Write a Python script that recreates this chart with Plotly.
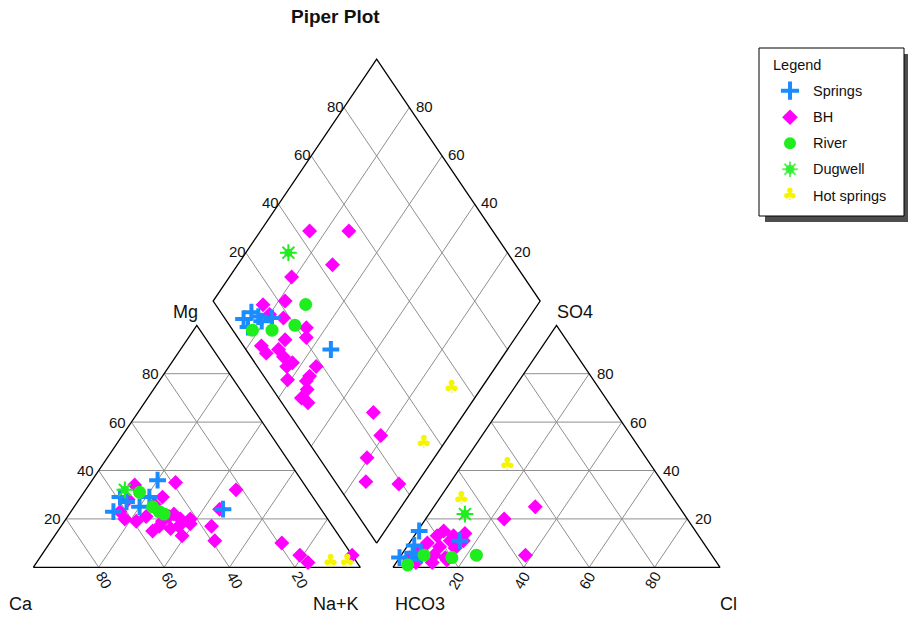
import plotly.graph_objects as go

# ------------------------------------------------------------------ data (%)
# Cation triangle: Mg and Na+K (Ca = 100 - Mg - Na+K)
springs_cat_mg = [36, 23, 29, 25, 29, 24, 27]
springs_cat_nak = [20, 13, 12, 20, 21, 46, 15]
bh_cat_mg = [34, 35, 32, 28, 29, 26, 20, 19, 15, 19, 22, 20, 20, 17, 16, 13, 24, 17, 11, 21,
             10, 5, 2, 5, 21, 23, 17, 18]
bh_cat_nak = [14, 26, 46, 15, 25, 24, 18, 22, 29, 30, 32, 35, 38, 36, 34, 39, 45, 46, 50, 24,
              71, 79, 83, 95, 31, 15, 30, 39]
river_cat_mg = [31, 25, 22, 23]
river_cat_nak = [17, 24, 29, 27]
dugwell_cat_mg = [32]
dugwell_cat_nak = [12]
hot_cat_mg = [2, 2]
hot_cat_nak = [90, 95]

# Anion triangle: SO4 and Cl (HCO3 = 100 - SO4 - Cl)
springs_an_so4 = [15, 11, 4, 9, 5, 6, 3]
springs_an_cl = [0.5, 15, 0, 2, 6, 3, 4]
bh_an_so4 = [25, 20, 5, 15, 14, 10, 8.5, 11, 5, 4, 2, 4, 8, 7, 13, 11, 3, 2, 13]
bh_an_cl = [31, 24, 38, 8, 15, 5.5, 10, 12, 10, 3, 11, 14, 15, 5, 7, 16, 15, 6, 12]
river_an_so4 = [5, 4, 5, 1]
river_an_cl = [23, 16, 7, 4]
dugwell_an_so4 = [22]
dugwell_an_cl = [11]
hot_an_so4 = [42, 28]
hot_an_cl = [14, 7]

# Diamond: Ca+Mg and SO4+Cl
springs_dia_camg = [87, 86, 83, 84, 81, 78.5, 54]
springs_dia_so4cl = [5.6, 9.4, 10.6, 5.3, 10.7, 14.5, 26]
bh_dia_camg = [85, 73, 71, 81, 78, 84, 66, 75, 70, 64, 76, 73, 70, 67, 63, 64, 55, 55, 61, 55,
               53, 53, 50, 28, 21, 20.6, 16, 5.4, 80]
bh_dia_so4cl = [44, 56, 44, 29, 22, 14.5, 23, 18, 14, 21, 5.5, 5.5, 10, 10, 11.5, 9, 18, 14, 6.5, 12,
                10.5, 7, 8, 26, 23.5, 14.7, 9.4, 19, 14.5]
river_dia_camg = [71, 70, 76, 82]
river_dia_so4cl = [27.6, 20, 12, 6]
dugwell_dia_camg = [87]
dugwell_dia_so4cl = [33]
hot_dia_camg = [9, 6]
hot_dia_so4cl = [55, 35]

tick_values = [20, 40, 60, 80]
group_names = ["Springs", "BH", "River", "Dugwell", "Hot springs"]

# ------------------------------------------------------------------ geometry
GAP = 0.1  # gap between the two triangles (fraction of side)


def cation_xy(mg, nak):
    return [(n + 0.5 * m) / 100 for m, n in zip(mg, nak)], [m / 100 for m in mg]


def anion_xy(so4, cl):
    return [1 + GAP + (c + 0.5 * s) / 100 for s, c in zip(so4, cl)], [s / 100 for s in so4]


def diamond_xy(camg, so4cl):
    return ([1 + GAP / 2 + 0.5 * (v - u) / 100 for u, v in zip(camg, so4cl)],
            [GAP + (u + v) / 100 for u, v in zip(camg, so4cl)])


def all_xy(cat, an, dia):
    x1, y1 = cation_xy(*cat)
    x2, y2 = anion_xy(*an)
    x3, y3 = diamond_xy(*dia)
    return x1 + x2 + x3, y1 + y2 + y3


FONT = "Liberation Sans, Arial, sans-serif"
BLUE = "#1a8cff"
MAGENTA = "#ff00ff"
GREEN = "#1eee1e"
YELLOW = "#f5f500"
GRID = "#8f8f8f"

fig = go.Figure()


def seg_trace(segs, color, width):
    xs, ys = [], []
    for pts in segs:
        for p in pts:
            xs.append(p[0])
            ys.append(p[1])
        xs.append(None)
        ys.append(None)
    return go.Scatter(x=xs, y=ys, mode="lines", line=dict(color=color, width=width),
                      hoverinfo="skip", showlegend=False)


# grid lines
grid = []
R0 = 1 + GAP
for t in [v / 100 for v in tick_values]:
    # cation triangle
    grid.append([(0.5 * t, t), (1 - 0.5 * t, t)])
    grid.append([(t, 0), (t + 0.5 * (1 - t), 1 - t)])
    grid.append([(1 - t, 0), (0.5 * (1 - t), 1 - t)])
    # anion triangle
    grid.append([(R0 + 0.5 * t, t), (R0 + 1 - 0.5 * t, t)])
    grid.append([(R0 + t, 0), (R0 + t + 0.5 * (1 - t), 1 - t)])
    grid.append([(R0 + 1 - t, 0), (R0 + 0.5 * (1 - t), 1 - t)])
    # diamond
    xa, ya = diamond_xy([t * 100, t * 100], [0, 100])
    grid.append(list(zip(xa, ya)))
    xb, yb = diamond_xy([0, 100], [t * 100, t * 100])
    grid.append(list(zip(xb, yb)))
fig.add_trace(seg_trace(grid, GRID, 1))

dx, dy = diamond_xy([0, 100, 100, 0, 0], [0, 0, 100, 100, 0])
outline = [
    [(0, 0), (1, 0), (0.5, 1), (0, 0)],
    [(R0, 0), (R0 + 1, 0), (R0 + 0.5, 1), (R0, 0)],
    list(zip(dx, dy)),
]
fig.add_trace(seg_trace(outline, "#000000", 1.3))

# ------------------------------------------------------------------ samples
bx, by = all_xy((bh_cat_mg, bh_cat_nak), (bh_an_so4, bh_an_cl), (bh_dia_camg, bh_dia_so4cl))
fig.add_trace(go.Scatter(x=bx, y=by, mode="markers", name="BH", showlegend=False,
                         marker=dict(symbol="diamond", size=11.5, color=MAGENTA, line=dict(width=0))))

sx, sy = all_xy((springs_cat_mg, springs_cat_nak), (springs_an_so4, springs_an_cl),
                (springs_dia_camg, springs_dia_so4cl))
fig.add_trace(go.Scatter(x=sx, y=sy, mode="markers", name="Springs", showlegend=False,
                         marker=dict(symbol="cross-thin", size=12, color=BLUE,
                                     line=dict(color=BLUE, width=4))))

rx, ry = all_xy((river_cat_mg, river_cat_nak), (river_an_so4, river_an_cl),
                (river_dia_camg, river_dia_so4cl))
fig.add_trace(go.Scatter(x=rx, y=ry, mode="markers", name="River", showlegend=False,
                         marker=dict(symbol="circle", size=13, color=GREEN, line=dict(width=0))))

ux, uy = all_xy((dugwell_cat_mg, dugwell_cat_nak), (dugwell_an_so4, dugwell_an_cl),
                (dugwell_dia_camg, dugwell_dia_so4cl))
fig.add_trace(go.Scatter(x=ux, y=uy, mode="markers", name="Dugwell", showlegend=False,
                         marker=dict(symbol="circle", size=8, color=GREEN, line=dict(width=0))))
fig.add_trace(go.Scatter(x=ux, y=uy, mode="markers", name="Dugwell", showlegend=False,
                         marker=dict(symbol="asterisk-open", size=14, color=GREEN,
                                     line=dict(color=GREEN, width=2))))

hx, hy = all_xy((hot_cat_mg, hot_cat_nak), (hot_an_so4, hot_an_cl), (hot_dia_camg, hot_dia_so4cl))
fig.add_trace(go.Scatter(x=hx, y=hy, mode="text", name="Hot springs", showlegend=False,
                         text=["\u2663"] * len(hx), textposition="middle center",
                         textfont=dict(family="DejaVu Sans", size=18, color=YELLOW)))

# ------------------------------------------------------------------ labels
ann = []


def label(x, y, text, size=15, xshift=0, yshift=0, angle=0, xanchor="center", xref="x", yref="y",
          bold=False):
    ann.append(dict(x=x, y=y, xref=xref, yref=yref, text=("<b>%s</b>" % text) if bold else text,
                    showarrow=False, xanchor=xanchor, yanchor="middle", xshift=xshift, yshift=yshift,
                    textangle=angle, font=dict(family=FONT, size=size, color="#111111")))


for v in tick_values:
    t = v / 100
    # Mg (left edge of cation triangle)
    label(0.5 * t, t, str(v), xshift=-13.5)
    # Ca (base of cation triangle)
    label(1 - t, 0, str(v), xshift=6, yshift=-12.7, angle=60)
    # Cl (base of anion triangle)
    label(R0 + t, 0, str(v), xshift=-2.5, yshift=-12.7, angle=-60)
    # SO4 (right edge of anion triangle)
    label(R0 + 1 - 0.5 * t, t, str(v), xshift=16.4)
    # diamond: SO4+Cl (upper-left edge), Ca+Mg (upper-right edge)
    lx, ly = diamond_xy([100], [v])
    label(lx[0], ly[0], str(v), xshift=-8.5, yshift=1.5)
    qx, qy = diamond_xy([v], [100])
    label(qx[0], qy[0], str(v), xshift=14.7, yshift=1.5)

W, H = 908, 619


def px(x, y):
    return x / W, 1 - y / H


for text, (x, y) in [("Mg", (185, 312)), ("Ca", (21, 604)), ("Na+K", (336, 604)),
                     ("HCO3", (420, 604)), ("Cl", (728, 604)), ("SO4", (575, 312))]:
    X, Y = px(x, y)
    label(X, Y, text, size=18, xref="paper", yref="paper")

X, Y = px(335, 17)
label(X, Y, "Piper Plot", size=19, xref="paper", yref="paper", bold=True)

# ------------------------------------------------------------------ legend (drawn box)
shapes = []
sx0, sy0 = px(765, 222)
sx1, sy1 = px(912, 54)
shapes.append(dict(type="rect", xref="paper", yref="paper", x0=sx0, y0=sy0, x1=sx1, y1=sy1,
                   fillcolor="#4d4d4d", line=dict(width=0), layer="below"))
lx0, ly0 = px(759, 216)
lx1, ly1 = px(904, 48)
shapes.append(dict(type="rect", xref="paper", yref="paper", x0=lx0, y0=ly0, x1=lx1, y1=ly1,
                   fillcolor="white", line=dict(color="black", width=1), layer="below"))

X, Y = px(771, 65.5)
label(X, Y, "Legend", size=14.5, xref="paper", yref="paper", xanchor="left")
row_y = [90.7, 117.3, 143.3, 169.3, 196]
for name, yy in zip(group_names, row_y):
    X, Y = px(811, yy)
    label(X, Y, name, size=14.5, xref="paper", yref="paper", xanchor="left")

key_x = 790
fig.add_trace(go.Scatter(x=[key_x], y=[row_y[0]], xaxis="x2", yaxis="y2", mode="markers",
                         showlegend=False, hoverinfo="skip",
                         marker=dict(symbol="cross-thin", size=13, color=BLUE,
                                     line=dict(color=BLUE, width=4))))
fig.add_trace(go.Scatter(x=[key_x], y=[row_y[1]], xaxis="x2", yaxis="y2", mode="markers",
                         showlegend=False, hoverinfo="skip",
                         marker=dict(symbol="diamond", size=12, color=MAGENTA, line=dict(width=0))))
fig.add_trace(go.Scatter(x=[key_x], y=[row_y[2]], xaxis="x2", yaxis="y2", mode="markers",
                         showlegend=False, hoverinfo="skip",
                         marker=dict(symbol="circle", size=12, color=GREEN, line=dict(width=0))))
fig.add_trace(go.Scatter(x=[key_x, key_x], y=[row_y[3], row_y[3]], xaxis="x2", yaxis="y2",
                         mode="markers", showlegend=False, hoverinfo="skip",
                         marker=dict(symbol=["circle", "asterisk-open"], size=[7, 13], color=GREEN,
                                     line=dict(color=GREEN, width=2))))
fig.add_trace(go.Scatter(x=[key_x], y=[row_y[4]], xaxis="x2", yaxis="y2", mode="text",
                         showlegend=False, hoverinfo="skip", text=["\u2663"],
                         textposition="middle center",
                         textfont=dict(family="DejaVu Sans", size=17, color=YELLOW)))

# ------------------------------------------------------------------ layout
x_lo = -33.3 / 327
x_hi = (W - 33.3) / 327
y_lo = (567.3 - H) / 242
y_hi = 567.3 / 242

fig.update_layout(
    width=W, height=H, autosize=False,
    margin=dict(l=0, r=0, t=0, b=0, pad=0),
    paper_bgcolor="white", plot_bgcolor="rgba(0,0,0,0)",
    xaxis=dict(range=[x_lo, x_hi], domain=[0, 1], visible=False, fixedrange=True),
    yaxis=dict(range=[y_lo, y_hi], domain=[0, 1], visible=False, fixedrange=True),
    xaxis2=dict(range=[0, W], domain=[0, 1], visible=False, fixedrange=True, anchor="y2"),
    yaxis2=dict(range=[H, 0], domain=[0, 1], visible=False, fixedrange=True, anchor="x2"),
    annotations=ann,
    shapes=shapes,
    showlegend=False,
    hovermode=False,
)

fig.write_html("out.html")
